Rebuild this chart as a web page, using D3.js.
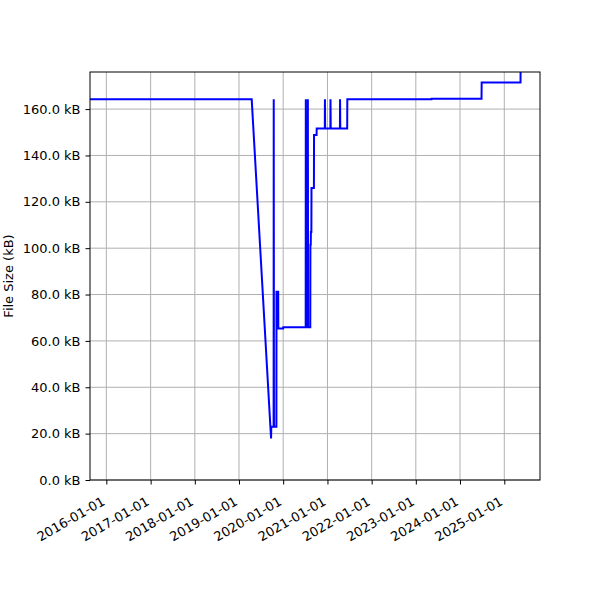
<!DOCTYPE html>
<html lang="en">
<head>
<meta charset="UTF-8" />
<title>File Size</title>
<script src="https://d3js.org/d3.v7.min.js"></script>
<style>
  body { margin: 0; background: #fff; }
  svg { display: block; font-family: "DejaVu Sans", sans-serif; }
</style>
</head>
<body>
<svg id="chart" width="600" height="600"></svg>
<script>
// dates and sizes (kB)
const dates = [
  "2015-08-19", "2019-04-16", "2019-09-23", "2019-09-25", "2019-10-14",
  "2019-10-15", "2019-10-17", "2019-11-06", "2019-11-07", "2019-11-21",
  "2019-11-22", "2020-01-01", "2020-01-02", "2020-07-05", "2020-07-06",
  "2020-07-08", "2020-07-22", "2020-07-23", "2020-07-25", "2020-08-12",
  "2020-08-13", "2020-08-16", "2020-08-17", "2020-08-21", "2020-08-22",
  "2020-09-11", "2020-09-12", "2020-10-03", "2020-10-04", "2020-12-10",
  "2020-12-11", "2020-12-13", "2021-01-25", "2021-01-26", "2021-01-28",
  "2021-04-14", "2021-04-15", "2021-04-17", "2021-06-13", "2021-06-14",
  "2023-05-11", "2023-05-12", "2024-06-27", "2024-06-28", "2025-05-15",
  "2025-05-16"
];
const sizes = [
  164.2, 164.2, 17.9, 23.0, 23.0,
  164.2, 23.0, 23.0, 81.2, 81.2,
  65.4, 65.4, 65.9, 65.9, 164.2,
  65.9, 65.9, 164.2, 65.9, 65.9,
  101.5, 101.5, 107.0, 107.0, 126.0,
  126.0, 148.8, 148.8, 151.6, 151.6,
  164.2, 151.6, 151.6, 164.2, 151.6,
  151.6, 164.2, 151.6, 151.6, 164.2,
  164.2, 164.5, 164.5, 171.5, 171.5,
  180.0
];
const xDomain = ["2015-08-19", "2025-10-23"];
const yMax = 176;
const yTicks = [0, 20, 40, 60, 80, 100, 120, 140, 160];
const yLabel = "File Size (kB)";

const parse = d3.utcParse("%Y-%m-%d");
const data = dates.map((d, i) => ({ date: parse(d), size: sizes[i] }));

const margin = { top: 72, right: 60, bottom: 120, left: 90 };
const width = 600 - margin.left - margin.right;
const height = 600 - margin.top - margin.bottom;
const fs = 13;

const svg = d3.select("#chart");
const g = svg.append("g")
  .attr("transform", "translate(" + margin.left + "," + margin.top + ")");

const x = d3.scaleUtc().domain(xDomain.map(parse)).range([0, width]);
const y = d3.scaleLinear().domain([0, yMax]).range([height, 0]);
const xTicks = d3.utcYear.range(parse("2016-01-01"), parse("2025-06-01"));
const fmt = d3.utcFormat("%Y-%m-%d");

// grid
g.append("g").selectAll("line").data(xTicks).join("line")
  .attr("x1", d => x(d)).attr("x2", d => x(d))
  .attr("y1", 0).attr("y2", height)
  .attr("stroke", "#b0b0b0").attr("stroke-width", 1);
g.append("g").selectAll("line").data(yTicks).join("line")
  .attr("x1", 0).attr("x2", width)
  .attr("y1", d => y(d)).attr("y2", d => y(d))
  .attr("stroke", "#b0b0b0").attr("stroke-width", 1);

// line
svg.append("clipPath").attr("id", "clip")
  .append("rect").attr("width", width).attr("height", height);
g.append("path")
  .datum(data)
  .attr("clip-path", "url(#clip)")
  .attr("fill", "none")
  .attr("stroke", "#0000ff")
  .attr("stroke-width", 2)
  .attr("d", d3.line().x(d => x(d.date)).y(d => y(d.size)));

// axes
const yAxis = g.append("g")
  .call(d3.axisLeft(y).tickValues(yTicks).tickSize(4.5).tickPadding(5)
    .tickFormat(d => d.toFixed(1) + " kB"));
yAxis.select(".domain").remove();
yAxis.selectAll("text").attr("font-size", fs).attr("fill", "#000")
  .attr("font-family", "DejaVu Sans");

const xAxis = g.append("g")
  .attr("transform", "translate(0," + height + ")")
  .call(d3.axisBottom(x).tickValues(xTicks).tickSize(4.5).tickFormat(fmt));
xAxis.select(".domain").remove();
xAxis.selectAll("text")
  .attr("font-size", fs).attr("fill", "#000")
  .attr("font-family", "DejaVu Sans")
  .attr("text-anchor", "end")
  .attr("dy", null)
  .attr("y", 0)
  .attr("transform", "translate(-1,24) rotate(-30)");

g.append("rect")
  .attr("width", width).attr("height", height)
  .attr("fill", "none").attr("stroke", "#000").attr("stroke-width", 1);

svg.append("text")
  .attr("transform", "translate(12.5," + (margin.top + height / 2) + ") rotate(-90)")
  .attr("text-anchor", "middle")
  .attr("font-size", fs)
  .text(yLabel);
</script>
</body>
</html>
